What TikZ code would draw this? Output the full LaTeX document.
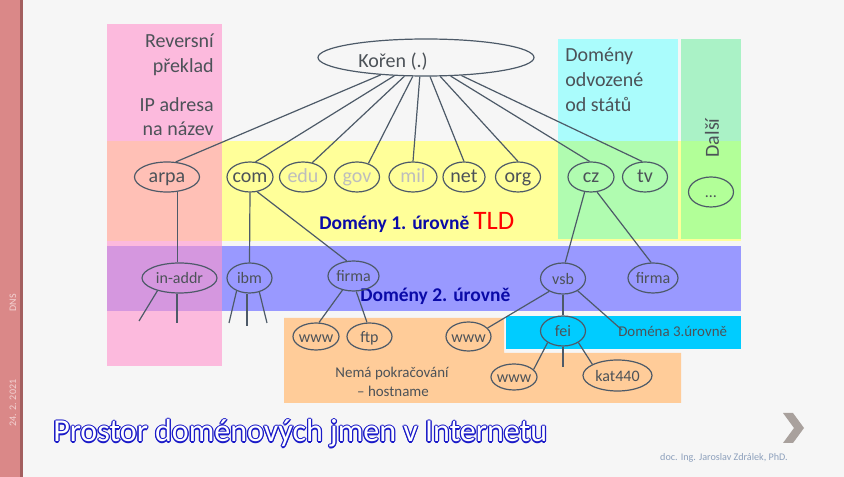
\documentclass[tikz,border=0pt]{standalone}
\usepackage{fontspec}
\setmainfont{Carlito}
\usetikzlibrary{shapes.geometric}
\definecolor{bgc}{HTML}{F6F6F6}
\definecolor{barc}{HTML}{DA8888}
\definecolor{bard}{HTML}{A35F5F}
\definecolor{pinkc}{HTML}{FCBADD}
\definecolor{salmonc}{HTML}{FFC0B6}
\definecolor{purpc}{HTML}{D597DF}
\definecolor{yelc}{HTML}{FFFF99}
\definecolor{cyanc}{HTML}{AAFCFC}
\definecolor{cygr}{HTML}{B0FCB0}
\definecolor{dalu}{HTML}{AAF2C6}
\definecolor{dall}{HTML}{B2FF98}
\definecolor{bluec}{HTML}{9999FF}
\definecolor{dcyan}{HTML}{00CCFF}
\definecolor{orac}{HTML}{FFCC99}
\definecolor{lnc}{HTML}{4D5A68}
\definecolor{txc}{HTML}{4C5258}
\definecolor{ltx}{HTML}{BDBDBD}
\definecolor{dblue}{HTML}{0A0AA8}
\definecolor{tblue}{HTML}{1A1AC8}
\definecolor{authc}{HTML}{8DA0BC}
\definecolor{chevc}{HTML}{A9A19D}
\definecolor{bartx}{HTML}{F3D3D3}
\newcommand\zb[1]{\makebox[0pt]{#1}}
\begin{document}
\begin{tikzpicture}[x=0.75pt,y=-0.75pt,
  el/.style 2 args={ellipse, draw=lnc, line width=0.9pt, inner sep=0pt,
     minimum width=#1*0.75pt, minimum height=#2*0.75pt, text=txc,
     text height=8.5pt, text depth=0pt},
  big/.style={font=\fontsize{15}{18}\selectfont},
  small/.style={font=\fontsize{12}{14}\selectfont},
  conn/.style={draw=lnc, line width=0.9pt},
  lbl/.style={inner sep=0pt, text=txc},
  dom/.style={inner sep=0pt, text=dblue, font=\fontsize{14.6}{17}\selectfont\bfseries},
  ttl/.style={inner sep=0pt, anchor=base west, font=\fontsize{24}{28}\selectfont},
  mid/.style={font=\fontsize{11.2}{13}\selectfont}
]
\fill[bgc] (0,0) rectangle (844,477);
\useasboundingbox (0,0) rectangle (844,477);
\fill[barc] (0,0) rectangle (21,477);
\fill[bard] (20,0) rectangle (23,477);

% coloured regions
\fill[pinkc] (107,24) rectangle (222,141);
\fill[salmonc] (107,141) rectangle (222,241);
\fill[pinkc] (107,241) rectangle (222,246);
\fill[purpc] (107,246) rectangle (222,311);
\fill[pinkc] (107,311) rectangle (222,366);
\fill[yelc] (222,141) rectangle (741,241);
\fill[cyanc] (558,39) rectangle (678,141);
\fill[cygr] (558,141) rectangle (678,239);
\fill[dalu] (681,39) rectangle (741,141);
\fill[dall] (681,141) rectangle (741,239);
\fill[bluec] (222,246) rectangle (741,311);
\fill[orac] (284,318) -- (504,318) -- (504,353) -- (681,353) -- (681,403) -- (284,403) -- cycle;
\fill[dcyan] (506,316) rectangle (741,349);

% left bar texts
\node[rotate=90, inner sep=0pt, text=bartx, font=\fontsize{7.5}{9}\selectfont] (dns) at (13,303) {DNS};
\node[rotate=90, inner sep=0pt, text=bartx, font=\fontsize{7.5}{9}\selectfont] (date) at (13,403) {24. 2. 2021};

% region texts
\node[lbl, big, anchor=base east] (rv1) at (214,48) {Reversní};
\node[lbl, big, anchor=base east] (rv2) at (214,73) {překlad};
\node[lbl, big, anchor=base east] (ip1) at (214,112) {IP adresa};
\node[lbl, big, anchor=base east] (ip2) at (214,136) {na název};
\node[lbl, big, anchor=base west] (dd1) at (565,62) {Domény};
\node[lbl, big, anchor=base west] (dd2) at (565,87) {odvozené};
\node[lbl, big, anchor=base west] (dd3) at (565,112) {od států};
\node[lbl, big, rotate=90] (dal) at (712,138) {Další};
\node[dom, anchor=base west] (d1) at (319,230) {Domény 1. úrovně {\mdseries\color{red}\fontsize{20}{24}\selectfont TLD}};
\node[dom, anchor=base west] (d2) at (360,302) {Domény 2. úrovně};
\node[lbl, mid, anchor=base] (nm1) at (392,378) {Nemá pokračování};
\node[lbl, mid, anchor=base] (nm2) at (393,397) {– hostname};

% tree nodes
\node[el={216}{37}, big] (koren) at (426,57.5) {\zb{\raisebox{-2.9pt}{Kořen (.)}\hspace{49.5pt}}};
\node[el={65}{30}, big] (arpa) at (167,177) {\zb{arpa}};
\node[el={46}{30}, big] (com) at (250,177) {\zb{com}};
\node[el={47}{30}, big, text=ltx] (edu) at (303,177) {\zb{edu}};
\node[el={45}{30}, big, text=ltx] (gov) at (357,177) {\zb{gov}};
\node[el={48}{30}, big, text=ltx] (mil) at (413,177) {\zb{mil}};
\node[el={42}{30}, big] (net) at (464,177) {\zb{net}};
\node[el={45}{30}, big] (org) at (518,177) {\zb{org}};
\node[el={46}{30}, big] (cz) at (591,177) {\zb{cz}};
\node[el={45}{30}, big] (tv) at (645,177) {\zb{tv}};
\node[el={45}{30}, small] (dots) at (711,192) {\zb{…}};

\node[el={75}{30}, small] (inaddr) at (179.5,278) {\zb{in-addr}};
\node[el={45}{30}, small] (ibm) at (249.5,278) {\zb{ibm}};
\node[el={51}{30}, small] (firmaa) at (353.5,276) {\zb{firma}};
\node[el={45}{31}, small] (vsb) at (563,278.5) {\zb{vsb}};
\node[el={50}{30}, small] (firmab) at (653,278) {\zb{firma}};
\node[el={46}{27}, small] (wwwa) at (316,336.5) {\zb{www}};
\node[el={45}{27}, small] (ftp) at (369.5,336.5) {\zb{ftp}};
\node[el={45}{29}, small] (wwwb) at (468.5,336.5) {\zb{www}};
\node[el={45}{30}, small] (fei) at (563,331) {\zb{fei}};
\node[el={46}{26}, small] (wwwc) at (514,377) {\zb{www}};
\node[el={69}{31}, small] (kat) at (617.5,375.5) {\zb{kat440}};

% free ends
\coordinate (ia1) at (139,321);
\coordinate (ia2) at (177,323);
\coordinate (ib1) at (229,323);
\coordinate (ib2) at (247,326);
\coordinate (ib3) at (267,323);
\coordinate (d3) at (622,330);
\coordinate (fe2) at (563,367);

% connectors
\draw[conn] (koren.201) -- (arpa.60);
\draw[conn] (koren.210) -- (com.70);
\draw[conn] (koren.221) -- (edu.57);
\draw[conn] (koren.235) -- (gov.50);
\draw[conn] (koren.252) -- (mil.north);
\draw[conn] (koren.282) -- (net.north);
\draw[conn] (koren.307) -- (org.north);
\draw[conn] (koren.323) -- (cz.95);
\draw[conn] (koren.333) -- (tv.100);

\draw[conn] (arpa.-55) -- (arpa.-55 |- inaddr.north);
\draw[conn] (inaddr.210) -- (ia1);
\draw[conn] (ia2 |- inaddr.south) -- (ia2);
\draw[conn] (com.south) -- (ibm.north);
\draw[conn] (ibm.225) -- (ib1);
\draw[conn] (ib2 |- ibm.south) -- (ib2);
\draw[conn] (ibm.305) -- (ib3);
\draw[conn] (com.296) -- (firmaa.114);
\draw[conn] (firmaa.232) -- (wwwa.78);
\draw[conn] (firmaa.-80) -- (ftp.100);
\draw[conn] (cz.247) -- (vsb.82);
\draw[conn] (cz.292) -- (firmab.97);
\draw[conn] (vsb.223) -- (wwwb.24);
\draw[conn] (vsb.south) -- (fei.north);
\draw[conn] (vsb.320) -- (d3);
\draw[conn] (fei.217) -- (wwwc.21);
\draw[conn] (fei.south) -- (fe2);
\draw[conn] (fei.323) -- (kat.156);

\node[lbl, mid, anchor=base west] (d3t) at (618,337) {Doména 3.úrovně};

% title: blue outline made of offset copies, white letters on top
\foreach \dx/\dy [count=\i] in {1.3/0, -1.3/0, 0/1.3, 0/-1.3, 0.9/0.9, -0.9/0.9, 0.9/-0.9, -0.9/-0.9}
  \node[ttl, text=tblue] (tto\i) at (53+\dx,442+\dy) {Prostor doménových jmen v Internetu};
\node[ttl, text=white] (title) at (53,442) {Prostor doménových jmen v Internetu};

% footer
\node[inner sep=0pt, text=authc, font=\fontsize{7.6}{9}\selectfont] (auth) at (724,458) {doc. Ing. Jaroslav Zdrálek, PhD.};
\fill[chevc] (783,413) -- (793,413) -- (804,428) -- (793,443) -- (783,443) -- (794,428) -- cycle;
\end{tikzpicture}
\end{document}
